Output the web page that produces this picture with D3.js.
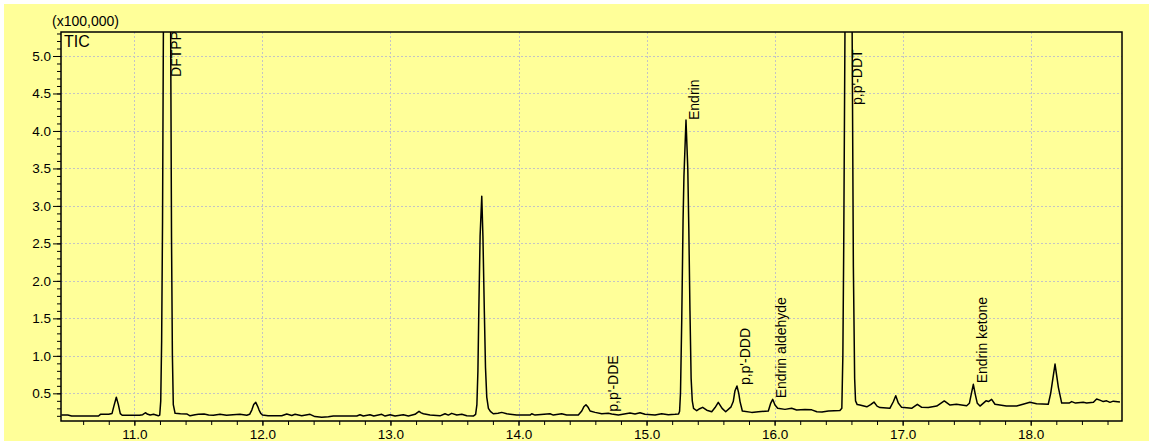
<!DOCTYPE html>
<html>
<head>
<meta charset="utf-8">
<script src="https://cdn.jsdelivr.net/npm/d3@7"></script>
<style>
  html, body { margin: 0; padding: 0; background: #ffffff; }
  svg { display: block; }
  text { font-family: "Liberation Sans", Arial, sans-serif; fill: #000; }
</style>
</head>
<body>
<svg id="chart" width="1149" height="441"></svg>
<script>
// ---- Data (retention time in min, intensity in x100,000) ----
const retentionTimes = [
  10.43, 10.48, 10.51, 10.72, 10.735, 10.80, 10.825, 10.84, 10.859, 10.875, 10.89, 10.905,
  11.04, 11.065, 11.086, 11.105, 11.123, 11.15, 11.187, 11.198,
  11.206, 11.213, 11.22, 11.227, 11.237, 11.255, 11.273, 11.283, 11.29, 11.297, 11.304,
  11.318, 11.36, 11.409, 11.435, 11.474, 11.50, 11.544, 11.58, 11.617, 11.669, 11.72, 11.77,
  11.825, 11.878, 11.90, 11.917, 11.932, 11.948, 11.962, 11.974, 11.988, 12.0, 12.044, 12.151,
  12.19, 12.229, 12.255, 12.307, 12.372, 12.41, 12.463, 12.515, 12.554, 12.737, 12.762, 12.788,
  12.84, 12.87, 12.932, 12.958, 12.997, 13.036, 13.10, 13.14, 13.192, 13.207, 13.223, 13.24,
  13.257, 13.309, 13.387, 13.426, 13.452, 13.478, 13.518, 13.557, 13.596, 13.647,
  13.665, 13.675, 13.683, 13.69, 13.70, 13.713, 13.722, 13.733, 13.742, 13.752, 13.765, 13.78,
  13.803, 13.84, 13.869, 13.908, 13.986, 14.09, 14.103, 14.129, 14.246, 14.272, 14.337, 14.376,
  14.467, 14.494, 14.51, 14.527, 14.545, 14.559, 14.598, 14.65, 14.701, 14.728, 14.78, 14.871,
  14.91, 14.949, 14.988, 15.066, 15.118, 15.17, 15.222, 15.25,
  15.258, 15.265, 15.275, 15.285, 15.292, 15.308, 15.322, 15.33, 15.339, 15.348, 15.357, 15.367,
  15.392, 15.415, 15.438, 15.47, 15.509, 15.535, 15.56, 15.59, 15.618, 15.66, 15.677, 15.69,
  15.706, 15.72, 15.73, 15.748, 15.821, 15.873, 15.951, 15.97, 15.985, 16.003, 16.024, 16.081,
  16.133, 16.172, 16.237, 16.29, 16.33, 16.37, 16.42, 16.51,
  16.525, 16.533, 16.54, 16.55, 16.56, 16.578, 16.595, 16.605, 16.615, 16.625, 16.632,
  16.645, 16.666, 16.72, 16.75, 16.776, 16.80, 16.823, 16.90, 16.927, 16.946, 16.966, 16.992,
  17.07, 17.095, 17.115, 17.149, 17.20, 17.266, 17.30, 17.325, 17.37, 17.42, 17.50, 17.521,
  17.537, 17.552, 17.568, 17.583, 17.604, 17.651, 17.67, 17.695, 17.721, 17.81, 17.89, 17.94,
  17.994, 18.046, 18.137, 18.156, 18.19, 18.216, 18.242, 18.30, 18.32, 18.35, 18.41, 18.437,
  18.49, 18.515, 18.54, 18.567, 18.593, 18.619, 18.645, 18.697
];
const intensities = [
  0.211, 0.211, 0.197, 0.197, 0.22, 0.22, 0.23, 0.33, 0.447, 0.35, 0.23, 0.207,
  0.207, 0.215, 0.241, 0.22, 0.21, 0.22, 0.20, 0.21,
  0.4, 1.2, 2.8, 5.5, 12, 20, 12, 5.5, 2.6, 1.0, 0.35,
  0.233, 0.228, 0.225, 0.20, 0.215, 0.22, 0.225, 0.21, 0.207, 0.22, 0.207, 0.215,
  0.22, 0.207, 0.22, 0.277, 0.35, 0.38, 0.33, 0.277, 0.23, 0.21, 0.20, 0.20,
  0.224, 0.205, 0.22, 0.20, 0.22, 0.19, 0.18, 0.188, 0.197, 0.197, 0.215, 0.197,
  0.215, 0.197, 0.22, 0.197, 0.215, 0.197, 0.215, 0.197, 0.22, 0.24, 0.26, 0.24,
  0.228, 0.21, 0.20, 0.228, 0.21, 0.233, 0.21, 0.22, 0.20, 0.197,
  0.22, 0.35, 0.8, 1.6, 2.6, 3.13, 2.6, 1.6, 0.85, 0.45, 0.3, 0.26,
  0.228, 0.235, 0.246, 0.228, 0.21, 0.21, 0.228, 0.21, 0.228, 0.21, 0.228, 0.21,
  0.21, 0.264, 0.32, 0.348, 0.31, 0.264, 0.246, 0.228, 0.233, 0.224, 0.21, 0.237,
  0.224, 0.24, 0.22, 0.21, 0.228, 0.215, 0.22, 0.224,
  0.26, 0.5, 1.5, 2.8, 3.4, 4.146, 3.5, 2.7, 1.6, 0.7, 0.4, 0.30,
  0.268, 0.295, 0.313, 0.275, 0.255, 0.31, 0.38, 0.30, 0.255, 0.32, 0.39, 0.53,
  0.598, 0.5, 0.39, 0.264, 0.246, 0.255, 0.264, 0.37, 0.42, 0.344, 0.30, 0.286,
  0.30, 0.277, 0.286, 0.28, 0.255, 0.25, 0.265, 0.27,
  0.3, 1.0, 2.5, 5.5, 12, 19, 12, 5.5, 2.2, 0.7, 0.4,
  0.35, 0.344, 0.32, 0.35, 0.384, 0.33, 0.31, 0.30, 0.388, 0.468, 0.37, 0.313,
  0.30, 0.33, 0.354, 0.313, 0.31, 0.331, 0.37, 0.398, 0.344, 0.354, 0.335, 0.367,
  0.50, 0.62, 0.48, 0.367, 0.33, 0.40, 0.39, 0.42, 0.354, 0.33, 0.33, 0.354,
  0.38, 0.36, 0.354, 0.50, 0.891, 0.58, 0.37, 0.37, 0.39, 0.37, 0.38, 0.37,
  0.38, 0.425, 0.41, 0.39, 0.40, 0.38, 0.396, 0.385
];

// Peak labels
const peakNames  = ["DFTPP", "p,p'-DDE", "Endrin", "p,p'-DDD", "Endrin aldehyde", "p,p'-DDT", "Endrin ketone"];
const peakTimes  = [11.255, 14.668, 15.308, 15.706, 15.985, 16.578, 17.552];
const peakLabelY = [4.72, 0.255, 4.146, 0.61, 0.433, 4.346, 0.634];

// Axis ticks
const xMajorTicks = [11.0, 12.0, 13.0, 14.0, 15.0, 16.0, 17.0, 18.0];
const yMajorTicks = [0.5, 1.0, 1.5, 2.0, 2.5, 3.0, 3.5, 4.0, 4.5, 5.0];
const xDomain = [10.427, 18.713];
const yDomain = [0.131, 5.32];

// ---- Drawing ----
const svg = d3.select("#chart");
const W = 1149, H = 441;
const plot = { left: 61, top: 32, right: 1122, bottom: 421 };

svg.append("rect").attr("x", 4).attr("y", 4).attr("width", W - 4).attr("height", H - 4)
  .attr("fill", "#FFFF99");

const x = d3.scaleLinear().domain(xDomain).range([plot.left, plot.right]);
const y = d3.scaleLinear().domain(yDomain).range([plot.bottom, plot.top]);

// grid
const grid = svg.append("g").attr("stroke", "#c4c4c4").attr("stroke-width", 1)
  .attr("stroke-dasharray", "2,2");
grid.selectAll("line.v").data(xMajorTicks).join("line")
  .attr("x1", d => Math.round(x(d)) + 0.5).attr("x2", d => Math.round(x(d)) + 0.5)
  .attr("y1", plot.top).attr("y2", plot.bottom);
grid.selectAll("line.h").data(yMajorTicks).join("line")
  .attr("y1", d => Math.round(y(d)) + 0.5).attr("y2", d => Math.round(y(d)) + 0.5)
  .attr("x1", plot.left).attr("x2", plot.right);

// clip
svg.append("clipPath").attr("id", "clip").append("rect")
  .attr("x", plot.left).attr("y", plot.top)
  .attr("width", plot.right - plot.left).attr("height", plot.bottom - plot.top);

const pts = retentionTimes.map((t, i) => [t, intensities[i]]);
const line = d3.line().x(d => x(d[0])).y(d => y(d[1]));
svg.append("path").datum(pts).attr("clip-path", "url(#clip)")
  .attr("d", line).attr("fill", "none").attr("stroke", "#000").attr("stroke-width", 1.5)
  .attr("stroke-linejoin", "round");

// axes
const xMinor = d3.range(53, 94).map(k => +(k * 0.2).toFixed(1));
const yMinor = d3.range(2, 54).map(k => +(k * 0.1).toFixed(1));

const gxMinor = svg.append("g").attr("transform", `translate(0,${plot.bottom})`)
  .call(d3.axisBottom(x).tickValues(xMinor).tickSize(4).tickFormat(""));
const gx = svg.append("g").attr("transform", `translate(0,${plot.bottom})`)
  .call(d3.axisBottom(x).tickValues(xMajorTicks).tickSize(5).tickPadding(3).tickFormat(d3.format(".1f")));
const gyMinor = svg.append("g").attr("transform", `translate(${plot.left},0)`)
  .call(d3.axisLeft(y).tickValues(yMinor).tickSize(4).tickFormat(""));
const gy = svg.append("g").attr("transform", `translate(${plot.left},0)`)
  .call(d3.axisLeft(y).tickValues(yMajorTicks).tickSize(8).tickPadding(2).tickFormat(d3.format(".1f")));

[gxMinor, gx, gyMinor, gy].forEach(g => {
  g.select(".domain").remove();
  g.selectAll(".tick line").attr("stroke", "#000").attr("stroke-width", 1);
  g.selectAll("text").attr("font-size", "13.5px").attr("font-family", "Liberation Sans, Arial, sans-serif").attr("fill", "#000");
});

// frame
svg.append("rect").attr("x", plot.left).attr("y", plot.top)
  .attr("width", plot.right - plot.left).attr("height", plot.bottom - plot.top)
  .attr("fill", "none").attr("stroke", "#000").attr("stroke-width", 1.5);

// texts
svg.append("text").attr("x", 52).attr("y", 26).attr("font-size", "14px").text("(x100,000)");
svg.append("text").attr("x", 64).attr("y", 47).attr("font-size", "16px").text("TIC");

// peak labels
svg.append("g").selectAll("text").data(peakNames).join("text")
  .attr("transform", (d, i) => `translate(${x(peakTimes[i]) + 13.5},${y(peakLabelY[i])}) rotate(-90)`)
  .attr("font-size", "14px")
  .text(d => d);
</script>
</body>
</html>
